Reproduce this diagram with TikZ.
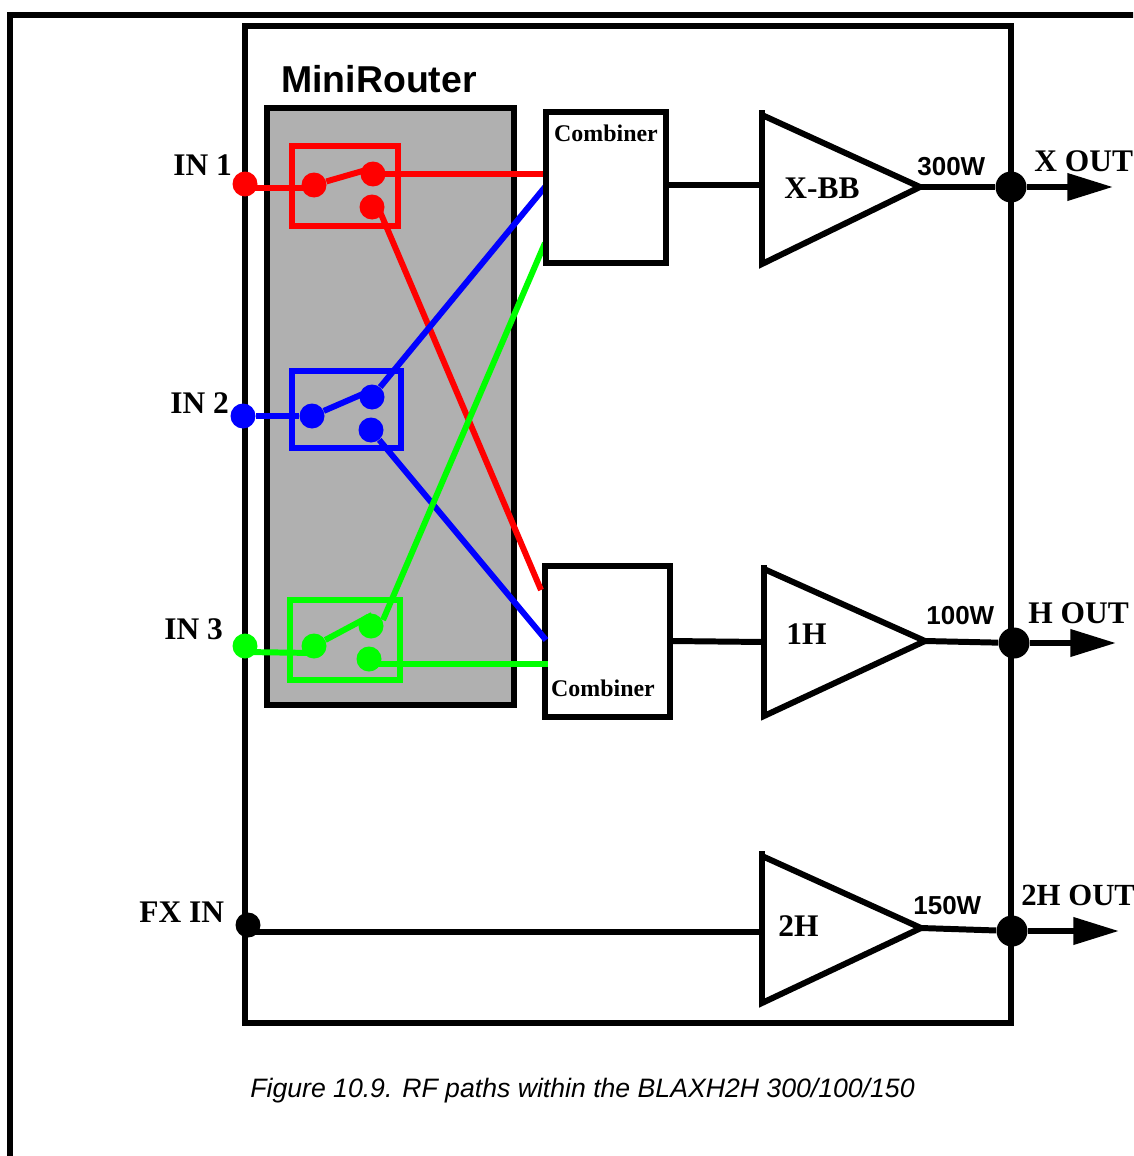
\documentclass[tikz,border=0pt]{standalone}
\usepackage{fontspec}
\setmainfont{Liberation Serif}
\setsansfont{Liberation Sans}
\usetikzlibrary{arrows.meta}
\tikzset{
  dotnode/.style={circle,fill,inner sep=0pt,minimum size=0.5cm},
  portnode/.style={circle,fill=black,inner sep=0pt,minimum size=0.62cm},
  inlabel/.style={anchor=base west,inner sep=0pt,font=\fontsize{17.9}{20}\selectfont\bfseries},
  wattlabel/.style={anchor=base west,inner sep=0pt,font=\fontsize{14.8}{17}\selectfont\sffamily\bfseries},
  comblabel/.style={anchor=base,inner sep=0pt,font=\fontsize{13.6}{16}\selectfont\bfseries},
  outline/.style={line width=6*0.567pt},
  wire/.style={line width=6*0.567pt},
  outarrow/.style={outline,-{Triangle[length=26pt,width=15pt]}}
}
\begin{document}
\begin{tikzpicture}[x=0.02cm,y=-0.02cm]
  \clip (0,0) rectangle (1133,1156);
  \coordinate (FL) at (10,1156);
  \coordinate (FT) at (10,15);
  \coordinate (FR) at (1133,15);
  \coordinate (MA) at (245,26);
  \coordinate (MB) at (1011,1023);
  \coordinate (GA) at (267,108);
  \coordinate (GB) at (514,705);

  % frame and boxes
  \draw[line width=6*0.567pt,line cap=rect] (FL) -- (FT) -- (FR);
  \draw[outline] (MA) rectangle (MB);
  \draw[line width=6*0.567pt,fill={rgb,255:red,176;green,176;blue,176}] (GA) rectangle (GB);
  \node[wattlabel,font=\fontsize{21.3}{24}\selectfont\sffamily\bfseries] (router) at (281,92) {MiniRouter};

  % combiner below the wires, as drawn in the source
  \node[draw,outline,fill=white,inner sep=0pt,minimum width=2.5cm,minimum height=3.02cm] (combB) at (607.5,641.5) {};
  \node[comblabel] (combBtext) at (603,696) {Combiner};

  % switch boxes
  \draw[wire,red] (292,146) rectangle (398,226);
  \draw[wire,blue] (292,371) rectangle (401,448);
  \draw[wire,green] (290,600) rectangle (400,680);

  % dots
  \node[dotnode,red] (in1) at (245,184) {};
  \node[dotnode,red] (a1) at (314,185) {};
  \node[dotnode,red] (b1) at (373,174) {};
  \node[dotnode,red] (c1) at (372,207) {};
  \node[dotnode,blue] (in2) at (243,416) {};
  \node[dotnode,blue] (a2) at (312,416) {};
  \node[dotnode,blue] (b2) at (372,397) {};
  \node[dotnode,blue] (c2) at (371,430) {};
  \node[dotnode,green] (in3) at (245,646) {};
  \node[dotnode,green] (a3) at (314,646) {};
  \node[dotnode,green] (b3) at (371,626) {};
  \node[dotnode,green] (c3) at (369,659) {};

  % wire ends
  \coordinate (E1) at (545,174);
  \coordinate (E2) at (541,590);
  \coordinate (E3) at (545,187);
  \coordinate (E4) at (546,640);
  \coordinate (E5) at (545,243);
  \coordinate (E6) at (548,664);
  \coordinate (S1) at (373,174);
  \coordinate (S2) at (245,188);
  \coordinate (S3) at (314,188);
  \coordinate (S4) at (245,652);
  \coordinate (S5) at (314,653);
  \coordinate (S6) at (369,664);
  \coordinate (S7) at (378,207);
  \coordinate (S8) at (383,620);
  \coordinate (S9) at (373,168);
  \coordinate (S10) at (372,390);
  \coordinate (S11) at (372,615);

  % coloured wires
  \draw[wire,red] (S2) -- (S3);
  \draw[wire,red] (a1) -- (S9);
  \draw[wire,red] (S1) -- (E1);
  \draw[wire,red] (S7) -- (E2);
  \draw[wire,blue] (in2) -- (a2);
  \draw[wire,blue] (a2) -- (S10);
  \draw[wire,blue] (b2) -- (E3);
  \draw[wire,blue] (c2) -- (E4);
  \draw[wire,green] (S4) -- (S5);
  \draw[wire,green] (a3) -- (S11);
  \draw[wire,green] (S8) -- (E5);
  \draw[wire,green] (S6) -- (E6);

  % upper combiner
  \node[draw,outline,fill=white,inner sep=0pt,minimum width=2.4cm,minimum height=3.02cm] (combA) at (606,187.5) {};
  \node[comblabel] (combAtext) at (606,141) {Combiner};

  % amplifiers
  \coordinate (XA) at (762,110);
  \coordinate (XB) at (762,264);
  \coordinate (XC) at (920,187);
  \coordinate (XD) at (762,115);
  \coordinate (HA) at (764,565);
  \coordinate (HB) at (764,716);
  \coordinate (HC) at (925,641);
  \coordinate (HD) at (764,569);
  \coordinate (TA) at (762,851);
  \coordinate (TB) at (762,1003);
  \coordinate (TC) at (921,928);
  \coordinate (TD) at (762,856);
  \draw[outline,line join=miter] (XA) -- (XB) -- (XC) -- (XD);
  \draw[outline,line join=miter] (HA) -- (HB) -- (HC) -- (HD);
  \draw[outline,line join=miter] (TA) -- (TB) -- (TC) -- (TD);

  % ports and lines
  \node[portnode] (xport) at (1011,187) {};
  \node[portnode] (hport) at (1014,643) {};
  \node[portnode] (tport) at (1012,931) {};
  \node[dotnode,black] (fxin) at (248,925) {};
  \coordinate (XE) at (667,185);
  \coordinate (XF) at (762,185);
  \coordinate (HE) at (671,641);
  \coordinate (HF) at (764,642);
  \coordinate (FA) at (248,932);
  \coordinate (FB) at (762,932);
  \coordinate (XO) at (1113,187);
  \coordinate (HO) at (1116,643);
  \coordinate (TO) at (1119,931);
  \draw[outline] (XE) -- (XF);
  \draw[outline] (HE) -- (HF);
  \draw[outline] (FA) -- (FB);
  \draw[outline] (XC) -- (xport);
  \draw[outline] (HC) -- (hport);
  \draw[outline] (TC) -- (tport);
  \draw[outarrow] (xport) -- (XO);
  \draw[outarrow] (hport) -- (HO);
  \draw[outarrow] (tport) -- (TO);

  % labels
  \node[inlabel] (lin1) at (173,175) {IN 1};
  \node[inlabel] (lin2) at (170,413) {IN 2};
  \node[inlabel] (lin3) at (164,639) {IN 3};
  \node[inlabel] (lfx) at (139,922) {FX IN};
  \node[inlabel] (lxb) at (784,198) {X-BB};
  \node[inlabel] (l1h) at (786,644) {1H};
  \node[inlabel] (l2h) at (778,936) {2H};
  \node[inlabel] (lxo) at (1034,171) {X OUT};
  \node[inlabel] (lho) at (1028,623) {H OUT};
  \node[inlabel,font=\fontsize{17.5}{20}\selectfont\bfseries] (lto) at (1021,905) {2H OUT};
  \node[wattlabel] (w300) at (917,175) {300W};
  \node[wattlabel] (w100) at (926,624) {100W};
  \node[wattlabel] (w150) at (913,914) {150W};
  \node[anchor=base west,inner sep=0pt,font=\fontsize{15.16}{18}\selectfont\sffamily\itshape] (caption) at (250,1097)
    {Figure 10.9. RF paths within the BLAXH2H 300/100/150};
\end{tikzpicture}
\end{document}
